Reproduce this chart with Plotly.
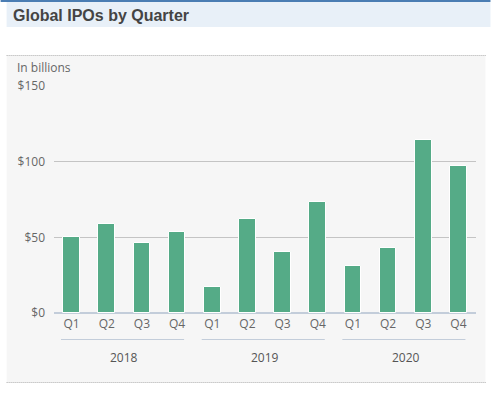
import plotly.graph_objects as go

quarters = ["Q1", "Q2", "Q3", "Q4"] * 3
years = ["2018", "2019", "2020"]
values = [50, 58.5, 46.5, 53.5, 17.5, 62, 40, 73.5, 31, 43, 114.5, 97]
y_ticks = [0, 50, 100, 150]
y_tick_labels = ["$0", "$50", "$100", "$150"]

W, H = 491, 393
L, R, T, B = 53.5, 14.5, 86, 80
PW, PH = W - L - R, H - T - B

def px(x):
    return (x - L) / PW

def py(y):
    return (H - B - y) / PH

xs = list(range(len(values)))
FONT = "Open Sans, Noto Sans"

fig = go.Figure(go.Bar(
    x=xs, y=values, width=0.47,
    marker=dict(color="#55ab87", line=dict(color="white", width=1)),
    hoverinfo="skip",
))

shapes = [
    dict(type="rect", xref="paper", yref="paper", x0=px(0), x1=px(491), y0=py(2), y1=py(0),
         fillcolor="#4a7db3", line=dict(width=0), layer="below"),
    dict(type="rect", xref="paper", yref="paper", x0=px(6), x1=px(491), y0=py(27), y1=py(2),
         fillcolor="#e8f0f8", line=dict(width=0), layer="below"),
    dict(type="rect", xref="paper", yref="paper", x0=px(6), x1=px(486), y0=py(382), y1=py(56),
         fillcolor="#f6f6f6", line=dict(width=0), layer="below"),
    dict(type="line", xref="paper", yref="paper", x0=px(6), x1=px(487), y0=py(55.5), y1=py(55.5),
         line=dict(color="#a8a8a8", width=1, dash="1px,1px")),
    dict(type="line", xref="paper", yref="paper", x0=px(6), x1=px(487), y0=py(382.5), y1=py(382.5),
         line=dict(color="#a8a8a8", width=1, dash="1px,1px")),
]
for i, yr in enumerate(years):
    shapes.append(dict(type="line", xref="x", yref="paper", x0=i * 4 - 0.3, x1=i * 4 + 3.2,
                       y0=py(339.5), y1=py(339.5), line=dict(color="#c3cdda", width=1)))

annotations = [
    dict(text="<b>Global IPOs by Quarter</b>", xref="paper", yref="paper", x=px(10), y=py(15),
         xanchor="left", yanchor="middle", showarrow=False,
         font=dict(family="Liberation Sans, Arial", size=16, color="#444444")),
    dict(text="In billions", xref="paper", yref="paper", x=px(14), y=py(77.5),
         xanchor="left", yanchor="bottom", showarrow=False,
         font=dict(family=FONT, size=12, color="#666666")),
]
for i, yr in enumerate(years):
    annotations.append(dict(text=yr, xref="x", yref="paper", x=i * 4 + 1.5, y=py(357),
                            xanchor="center", yanchor="middle", showarrow=False,
                            font=dict(family=FONT, size=12, color="#555555")))

fig.update_layout(
    width=W, height=H,
    margin=dict(l=L, r=R, t=T, b=B, pad=0),
    paper_bgcolor="white",
    plot_bgcolor="rgba(0,0,0,0)",
    showlegend=False,
    shapes=shapes,
    annotations=annotations,
    bargap=0,
    xaxis=dict(range=[-0.5, 11.5], tickvals=xs, ticktext=quarters, showgrid=False,
               zeroline=False, showline=False, ticks="", ticklen=0, ticklabelstandoff=2,
               tickfont=dict(family=FONT, size=12, color="#666666"),
               fixedrange=True),
    yaxis=dict(range=[0, 150], tickvals=y_ticks, ticktext=y_tick_labels, showgrid=True,
               gridcolor="#c4c4c4", gridwidth=1, zeroline=True, zerolinecolor="#c3cdda",
               zerolinewidth=2, showline=False, ticks="", ticklabelstandoff=8,
               tickfont=dict(family=FONT, size=12, color="#666666"),
               fixedrange=True),
)

fig.write_html("out.html", config={"displayModeBar": False},
               post_script="document.body.style.margin='0';document.body.style.padding='0';document.body.style.overflow='hidden';")
